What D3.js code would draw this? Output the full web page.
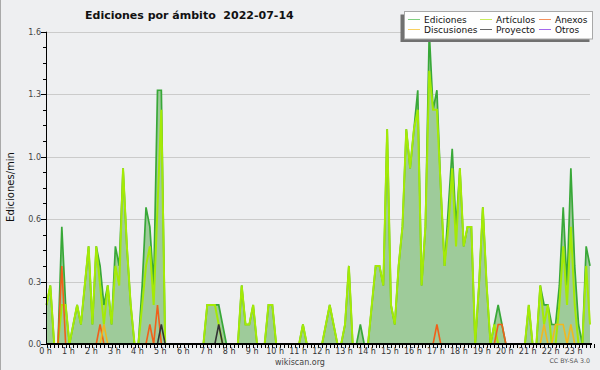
<!DOCTYPE html>
<html>
<head>
<meta charset="utf-8">
<script src="https://cdn.jsdelivr.net/npm/d3@7"></script>
<style>
  html, body { margin: 0; padding: 0; background: #eeeff1; }
  svg { display: block; }
  text { font-family: "DejaVu Sans", sans-serif; }
</style>
</head>
<body>
<figure id="chart" style="margin:0"></figure>
<script>
// 10 minute bins, edits per minute (0:00 -> 23:40)
const ediciones = [
  0.2,0.3,0,0,0.6,0.2,0,0.1,0.2,0.1,
  0.3,0.5,0.1,0.5,0.4,0.2,0.3,0.1,0.5,0.4,
  0.9,0.5,0.2,0,0,0.3,0.7,0.6,0.3,1.3,
  1.3,0,0,0,0,0,0,0,0,0,
  0,0,0.2,0.2,0.2,0.2,0.1,0,0,0,
  0,0.3,0.1,0.1,0.2,0,0,0,0.2,0.2,
  0,0,0,0,0,0,0,0.1,0,0,
  0,0,0,0.1,0.2,0.1,0,0,0.1,0.4,
  0,0,0.1,0,0,0.2,0.4,0.4,0.3,1.1,
  0.2,0.1,0.4,0.6,1.1,0.9,1.1,1.3,0.3,0.6,
  1.6,1.2,1.3,0.8,0.4,0.7,1.0,0.6,0.9,0.5,
  0.6,0.6,0,0.3,0.7,0.3,0,0.1,0.2,0.1,
  0,0,0,0,0,0,0.2,0,0,0.3,
  0.2,0.2,0.1,0.1,0.3,0.7,0.3,0.9,0.4,0.1,
  0,0.5,0.4
]
const articulos = [
  0.2,0.3,0,0,0.2,0.2,0,0.1,0.2,0.1,
  0.3,0.5,0.1,0.5,0.3,0.1,0.3,0.1,0.4,0.3,
  0.9,0.5,0.2,0,0,0.2,0.4,0.5,0.2,0.7,
  1.2,0,0,0,0,0,0,0,0,0,
  0,0,0.2,0.2,0.2,0.1,0,0,0,0,
  0,0.3,0.1,0.1,0.2,0,0,0,0.2,0.2,
  0,0,0,0,0,0,0,0.1,0,0,
  0,0,0,0.1,0.2,0.1,0,0,0.1,0.4,
  0,0,0,0,0,0.2,0.4,0.4,0.3,1.1,
  0.2,0.1,0.4,0.6,1.1,0.9,1.1,1.2,0.3,0.6,
  1.4,1.2,1.2,0.8,0.4,0.6,0.9,0.5,0.9,0.5,
  0.6,0.6,0,0.3,0.7,0.3,0,0.1,0,0,
  0,0,0,0,0,0,0.2,0,0,0.3,
  0.1,0.2,0,0,0.2,0.5,0.2,0.6,0.2,0,
  0,0.4,0.1
]
const anexos = [
  0,0,0,0,0.4,0,0,0,0,0,
  0,0,0,0,0.1,0,0,0,0,0,
  0,0,0,0,0,0,0,0.1,0,0.2,
  0,0,0,0,0,0,0,0,0,0,
  0,0,0,0,0,0,0,0,0,0,
  0,0,0,0,0,0,0,0,0,0,
  0,0,0,0,0,0,0,0,0,0,
  0,0,0,0,0,0,0,0,0,0,
  0,0,0,0,0,0,0,0,0,0,
  0,0,0,0,0,0,0,0,0,0,
  0,0,0.1,0,0,0,0,0,0,0,
  0,0,0,0,0,0,0,0,0.1,0.1,
  0,0,0,0,0,0,0,0,0,0,
  0,0,0,0,0,0,0,0,0,0,
  0,0,0
]
const discusiones = [
  0,0,0,0,0,0,0,0,0,0,
  0,0,0,0,0,0.1,0,0,0,0,
  0,0,0,0,0,0,0,0,0,0,
  0,0,0,0,0,0,0,0,0,0,
  0,0,0,0,0,0,0,0,0,0,
  0,0,0,0,0,0,0,0,0,0,
  0,0,0,0,0,0,0,0,0,0,
  0,0,0,0,0,0,0,0,0,0,
  0,0,0,0,0,0,0,0,0,0,
  0,0,0,0,0,0,0,0,0,0,
  0,0,0,0,0,0,0,0,0,0,
  0,0,0,0,0,0,0,0,0,0,
  0,0,0,0,0,0,0,0,0,0,
  0.1,0,0,0.1,0.1,0.1,0,0.1,0,0,
  0,0,0
]
const proyecto = [
  0,0,0,0,0,0,0,0,0,0,
  0,0,0,0,0,0,0,0,0,0,
  0,0,0,0,0,0,0,0,0,0,
  0.1,0,0,0,0,0,0,0,0,0,
  0,0,0,0,0,0.1,0,0,0,0,
  0,0,0,0,0,0,0,0,0,0,
  0,0,0,0,0,0,0,0,0,0,
  0,0,0,0,0,0,0,0,0,0,
  0,0,0,0,0,0,0,0,0,0,
  0,0,0,0,0,0,0,0,0,0,
  0,0,0,0,0,0,0,0,0,0,
  0,0,0,0,0,0,0,0,0,0,
  0,0,0,0,0,0,0,0,0,0,
  0,0,0,0,0,0,0,0,0,0,
  0,0,0
]
const otros = [
  0,0,0,0,0,0,0,0,0,0,
  0,0,0,0,0,0,0,0,0,0,
  0,0,0,0,0,0,0,0,0,0,
  0,0,0,0,0,0,0,0,0,0,
  0,0,0,0,0,0,0,0,0,0,
  0,0,0,0,0,0,0,0,0,0,
  0,0,0,0,0,0,0,0,0,0,
  0,0,0,0,0,0,0,0,0,0,
  0,0,0,0,0,0,0,0,0,0,
  0,0,0,0,0,0,0,0,0,0,
  0,0,0,0,0,0,0,0,0,0,
  0,0,0,0,0,0,0,0,0,0,
  0,0,0,0,0,0,0,0,0,0,
  0,0,0,0,0,0,0,0,0,0,
  0,0,0
]

const hourLabels = ["0 h","1 h","2 h","3 h","4 h","5 h","6 h","7 h","8 h","9 h","10 h","11 h",
  "12 h","13 h","14 h","15 h","16 h","17 h","18 h","19 h","20 h","21 h","22 h","23 h"]
const yTicks = [0, 0.32, 0.64, 0.96, 1.28, 1.6]

const series = [
  { name: "Ediciones",   values: ediciones,   color: "#38a838", legend: "#7fcf7f", w: 1.7 },
  { name: "Artículos",   values: articulos,   color: "#a4ea06", legend: "#c8ec5c", w: 2 },
  { name: "Anexos",      values: anexos,      color: "#f0601a", legend: "#f4905c", w: 1.6 },
  { name: "Discusiones", values: discusiones, color: "#f0b820", legend: "#f8d060", w: 1.6 },
  { name: "Proyecto",    values: proyecto,    color: "#333333", legend: "#666666", w: 1.6 },
  { name: "Otros",       values: otros,       color: "#8a3ee0", legend: "#a468ec", w: 1.6 }
]

const width = 600
const height = 370

const x = d3.scaleLinear()
  .domain([0, ediciones.length - 1])
  .range([46.5, 590])

const y = d3.scaleLinear()
  .domain([0, 1.6])
  .range([344, 31.7])

const svg = d3.select("figure#chart")
  .append("svg")
  .attr("width", width)
  .attr("height", height)

svg.append("rect")
  .attr("width", width)
  .attr("height", height)
  .attr("fill", "#eeeff1")

// frame on the left
svg.append("line")
  .attr("x1", 0.5).attr("x2", 0.5)
  .attr("y1", 0).attr("y2", height)
  .attr("stroke", "#a9a9a9")

// grid
svg.append("g")
  .selectAll("line")
  .data(yTicks.slice(1))
  .join("line")
    .attr("x1", x(0)).attr("x2", 590)
    .attr("y1", d => Math.round(y(d)) + 0.5)
    .attr("y2", d => Math.round(y(d)) + 0.5)
    .attr("stroke", "#cbcbcb")

// area under total
svg.append("path")
  .datum(ediciones)
  .attr("fill", "#9ecb9a")
  .attr("d", d3.area()
    .x((d, i) => x(i))
    .y0(y(0))
    .y1(d => y(d)))

const line = d3.line()
  .x((d, i) => x(i))
  .y(d => y(d))

svg.append("g")
    .attr("fill", "none")
    .attr("stroke-linejoin", "miter")
  .selectAll("path")
  .data(series)
  .join("path")
    .attr("stroke", d => d.color)
    .attr("stroke-width", d => d.w)
    .attr("d", d => line(d.values))

// y axis
const yAxis = svg.append("g")
yAxis.append("line")
  .attr("x1", 46.5).attr("x2", 46.5)
  .attr("y1", y(1.6)).attr("y2", y(0))
  .attr("stroke", "#000")
yAxis.selectAll("line.minor")
  .data(d3.range(0, 21).map(k => k * 0.08))
  .join("line")
    .attr("class", "minor")
    .attr("x1", d => yTicks.some(t => Math.abs(t - d) < 1e-6) ? 41 : 43)
    .attr("x2", 46.5)
    .attr("y1", d => Math.round(y(d)) + 0.5)
    .attr("y2", d => Math.round(y(d)) + 0.5)
    .attr("stroke", "#000")
yAxis.selectAll("text")
  .data(yTicks)
  .join("text")
    .attr("x", 41)
    .attr("y", d => y(d) + 3)
    .attr("text-anchor", "end")
    .attr("font-size", 8)
    .attr("fill", "#444")
    .text(d => d.toFixed(1))

svg.append("text")
  .attr("transform", "translate(14,187) rotate(-90)")
  .attr("text-anchor", "middle")
  .attr("font-family", "DejaVu Sans Mono")
  .attr("font-size", 10)
  .attr("fill", "#111")
  .text("Ediciones/min")

// x axis
const xAxis = svg.append("g")
xAxis.selectAll("line.tick")
  .data(d3.range(0, ediciones.length + 1))
  .join("line")
    .attr("class", "tick")
    .attr("x1", d => Math.round(x(d)) + 0.5)
    .attr("x2", d => Math.round(x(d)) + 0.5)
    .attr("y1", y(0))
    .attr("y2", y(0) + 4)
    .attr("stroke", "#000")
xAxis.append("line")
  .attr("x1", 46).attr("x2", 592)
  .attr("y1", y(0)).attr("y2", y(0))
  .attr("stroke", "#000")
  .attr("stroke-width", 2)
xAxis.selectAll("text")
  .data(hourLabels)
  .join("text")
    .attr("x", (d, i) => x(i * 6) - 1)
    .attr("y", 354)
    .attr("text-anchor", "middle")
    .attr("font-size", 8)
    .attr("fill", "#333")
    .text(d => d)

// title
svg.append("text")
  .attr("x", 85)
  .attr("y", 18.5)
  .attr("font-size", 11)
  .attr("font-weight", "bold")
  .attr("fill", "#111")
  .style("white-space", "pre")
  .text("Ediciones por ámbito  2022-07-14")

svg.append("text")
  .attr("x", 300)
  .attr("y", 365)
  .attr("text-anchor", "middle")
  .attr("font-size", 8)
  .attr("fill", "#444")
  .text("wikiscan.org")

svg.append("text")
  .attr("x", 590)
  .attr("y", 363)
  .attr("text-anchor", "end")
  .attr("font-size", 6.3)
  .attr("fill", "#555")
  .text("CC BY-SA 3.0")

// legend
const legend = svg.append("g")
legend.append("rect")
  .attr("x", 400.5).attr("y", 14.5)
  .attr("width", 189).attr("height", 27.5)
  .attr("fill", "#707070")
legend.append("rect")
  .attr("x", 404.5).attr("y", 11.5)
  .attr("width", 188).attr("height", 27.5)
  .attr("fill", "#fefefe")
  .attr("stroke", "#a8a8a8")

const colX = [408, 480, 539]
const item = legend.selectAll("g")
  .data(series)
  .join("g")
    .attr("transform", (d, i) => `translate(${colX[i % 3]},${i < 3 ? 19.5 : 29.5})`)
item.append("line")
  .attr("x1", 0).attr("x2", 12)
  .attr("stroke", d => d.legend)
item.append("text")
  .attr("x", 16)
  .attr("y", 3)
  .attr("font-size", 9)
  .attr("fill", "#111")
  .text(d => d.name)
</script>
</body>
</html>
